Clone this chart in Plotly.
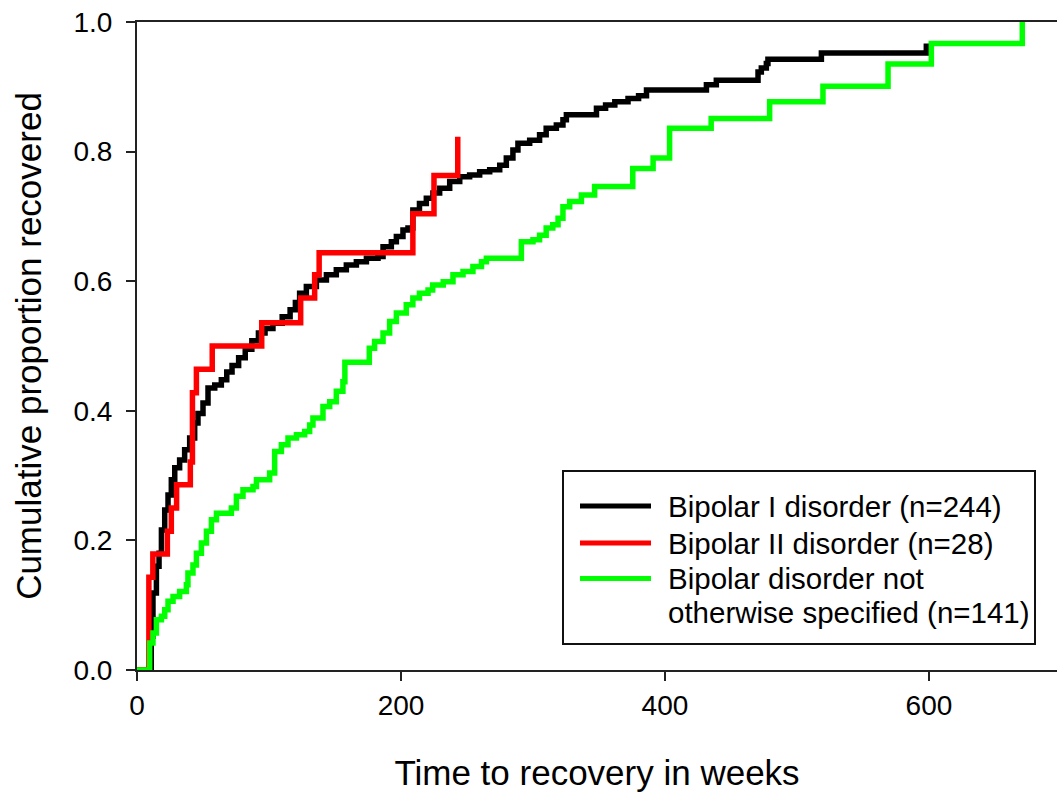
import plotly.graph_objects as go

# ---------------- data ----------------
series_names = [
    "Bipolar I disorder (n=244)",
    "Bipolar II disorder (n=28)",
    "Bipolar disorder not",
    "otherwise specified (n=141)",
]

bp1_weeks = [0, 10.8, 12.1, 14.7, 16.7, 18.5, 21, 23.5, 26, 28.6, 32.3, 36.1, 39.9, 43.7, 46.2,
             50, 53.8, 58.9, 63.9, 68, 72, 77, 82, 87, 92, 97, 103, 110, 116, 120, 123.2,
             128.3, 135.9, 143.5, 151, 158.6, 166.2, 173.8, 182.6, 186.4, 192.7, 196.5,
             201.5, 205.3, 209, 214, 219.2, 224.2, 229.3, 236.9, 244.5, 252, 259.6, 267.2,
             274.8, 279.8, 284.8, 288.6, 297.5, 305, 310, 317.7, 322.7, 325.3, 348.1, 355,
             362, 372, 380, 386, 431.4, 438.9, 470.5, 473, 476.8, 478, 518.5, 598]
bp1_prop = [0, 0.052, 0.119, 0.16, 0.18, 0.216, 0.247, 0.27, 0.2935, 0.312, 0.324, 0.34, 0.358,
            0.381, 0.396, 0.412, 0.435, 0.44, 0.448, 0.46, 0.47, 0.482, 0.495, 0.508, 0.52,
            0.527, 0.535, 0.545, 0.556, 0.567, 0.5815, 0.592, 0.602, 0.61, 0.6175, 0.625,
            0.63, 0.6355, 0.638, 0.653, 0.661, 0.669, 0.679, 0.682, 0.71, 0.72, 0.728, 0.736,
            0.7435, 0.754, 0.761, 0.764, 0.769, 0.772, 0.779, 0.79, 0.8026, 0.813, 0.8175,
            0.826, 0.836, 0.841, 0.849, 0.857, 0.867, 0.872, 0.877, 0.882, 0.886, 0.895,
            0.903, 0.91, 0.923, 0.929, 0.936, 0.9425, 0.952, 0.967]

bp2_weeks = [0, 9, 12, 23, 26, 30, 40.4, 42, 45, 57, 94.5, 124, 134.6, 138, 209, 225, 243]
bp2_prop = [0, 0.143, 0.179, 0.214, 0.25, 0.286, 0.321, 0.428, 0.464, 0.5, 0.536, 0.574,
            0.61, 0.644, 0.704, 0.763, 0.823]

nos_weeks = [0, 9.6, 12.1, 14.7, 18.5, 21, 23.5, 27.3, 32.3, 37.4, 38.6, 42.4, 45, 48.8, 52.6,
             56.4, 60.2, 71.5, 75.3, 80.3, 87.9, 90.5, 100.5, 104.3, 109.4, 114.4, 120.8, 127,
             130.8, 133.3, 140.9, 146, 151, 156, 157.5, 176, 180, 186.4, 191.4, 196.5, 204,
             209, 214, 220.5, 224, 232, 239.4, 247, 254.5, 261, 264.7, 291.2, 300, 305, 310,
             315, 319, 322.7, 327.8, 336.7, 346.7, 375.6, 391, 403.5, 435, 479.3, 519.7, 569,
             601.8, 670.7]
nos_prop = [0, 0.0416, 0.057, 0.0776, 0.083, 0.093, 0.106, 0.1135, 0.121, 0.1316, 0.1496, 0.162,
            0.18, 0.196, 0.214, 0.232, 0.242, 0.25, 0.268, 0.278, 0.283, 0.2935, 0.304, 0.337,
            0.3475, 0.358, 0.363, 0.368, 0.378, 0.389, 0.4066, 0.414, 0.43, 0.445, 0.475,
            0.4966, 0.507, 0.52, 0.538, 0.551, 0.5635, 0.574, 0.5815, 0.5866, 0.594, 0.599,
            0.61, 0.615, 0.6225, 0.63, 0.6355, 0.661, 0.664, 0.671, 0.682, 0.687, 0.697,
            0.715, 0.723, 0.733, 0.746, 0.774, 0.79, 0.836, 0.851, 0.877, 0.901, 0.935,
            0.967, 1.0]

x_ticks = [0, 200, 400, 600]
y_ticks = [0.0, 0.2, 0.4, 0.6, 0.8, 1.0]

colors = ["#000000", "#ff0000", "#00ff00"]
FONT = "Arial, Liberation Sans, Helvetica, sans-serif"

# ---------------- figure ----------------
fig = go.Figure()
for xs, ys, name, col in [
    (bp1_weeks, bp1_prop, series_names[0], colors[0]),
    (bp2_weeks, bp2_prop, series_names[1], colors[1]),
    (nos_weeks, nos_prop, series_names[2] + " " + series_names[3], colors[2]),
]:
    fig.add_trace(go.Scatter(
        x=xs, y=ys, mode="lines", name=name, showlegend=False,
        line=dict(color=col, width=5.5, shape="hv"),
    ))

W, H = 1058, 796
ML, MR, MT, MB = 137, 1, 22, 126
PW, PH = W - ML - MR, H - MT - MB


def px(xp):
    return (xp - ML) / PW


def py(yp):
    return (H - MB - yp) / PH


shapes = [
    dict(type="rect", xref="paper", yref="paper",
         x0=px(563), x1=px(1035), y0=py(644), y1=py(471),
         line=dict(color="#111", width=2), fillcolor="white", layer="above"),
]
annotations = []
legend_rows = [(506, 0), (543, 1), (578.5, 2)]
for ly, i in legend_rows:
    shapes.append(dict(type="line", xref="paper", yref="paper",
                       x0=px(580), x1=px(651), y0=py(ly), y1=py(ly),
                       line=dict(color=colors[i], width=5), layer="above"))
text_rows = [(506, series_names[0]), (543, series_names[1]),
             (578.5, series_names[2]), (612, series_names[3])]
for ty, txt in text_rows:
    annotations.append(dict(xref="paper", yref="paper", x=px(666), y=py(ty),
                            xanchor="left", yanchor="middle", showarrow=False,
                            text=txt, font=dict(family=FONT, size=29.5, color="#000")))

axis_common = dict(
    showgrid=False, zeroline=False, showline=True, linecolor="#222", linewidth=2,
    ticks="outside", ticklen=9, tickwidth=2, tickcolor="#222",
    tickfont=dict(family=FONT, size=28, color="#000"),
)

fig.update_layout(
    width=W, height=H,
    margin=dict(l=ML, r=MR, t=MT, b=MB, pad=0),
    paper_bgcolor="white", plot_bgcolor="white",
    font=dict(family=FONT, color="#000"),
    xaxis=dict(range=[0, 697], tickvals=x_ticks, mirror=True,
               title=dict(text="Time to recovery in weeks",
                          font=dict(family=FONT, size=35, color="#000"), standoff=41),
               **axis_common),
    yaxis=dict(range=[0, 1], tickvals=y_ticks, tickformat=".1f", ticklabelstandoff=8,
               title=dict(text="Cumulative proportion recovered",
                          font=dict(family=FONT, size=35, color="#000"), standoff=21),
               **axis_common),
    shapes=shapes,
    annotations=annotations,
    showlegend=False,
)

fig.write_html(
    "out.html",
    config={"displayModeBar": False},
    post_script="document.body.style.margin='0';document.body.style.overflow='hidden';",
)
